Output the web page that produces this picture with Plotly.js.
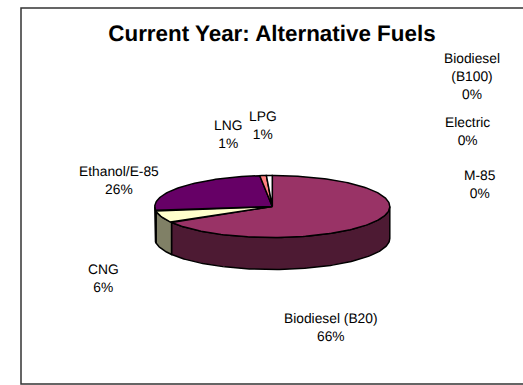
<!DOCTYPE html>
<html><head><meta charset="utf-8">
<script src="https://cdn.plot.ly/plotly-3.0.0.min.js"></script>
<style>html,body{margin:0;padding:0;background:#fff} svg text{text-rendering:geometricPrecision}</style></head>
<body><div id="chart" style="width:523px;height:385px"></div>
<script>
// Data, clockwise from 12 o'clock
const categories = ["Biodiesel (B20)", "CNG", "Ethanol/E-85", "LNG", "LPG", "Biodiesel (B100)", "Electric", "M-85"];
const shares = [66.4, 6.3, 25.6, 0.9, 0.8, 0, 0, 0];
const topColors = ["#993366", "#ffffcc", "#660066", "#ff8080", "#ffffff", "#ccffff", "#ccccff", "#800000"];
const sideColors = ["#4d1a33", "#808066", "#330033", "#804040", "#808080", "#668080", "#666680", "#400000"];
const labelText = ["Biodiesel (B20)", "CNG", "Ethanol/E-85", "LNG", "LPG", "Biodiesel<br>(B100)", "Electric", "M-85"];

// Layout (pixel frame)
const W = 523, H = 385;
const cx = 272.3, cy = 206.5, rx = 117.5, ry = 31, depth = 32;
const labelX = [331, 103, 119, 227.5, 263, 472, 467, 480];
const labelY = [327, 278, 180, 134, 125, 76, 131, 184];

const total = shares.reduce((a, b) => a + b, 0);
const px = a => cx + rx * Math.sin(a);
const py = a => cy - ry * Math.cos(a);
function arc(a0, a1, dy) {
  const n = Math.max(2, Math.ceil(Math.abs(a1 - a0) / 0.02));
  const xs = [], ys = [];
  for (let i = 0; i <= n; i++) {
    const a = a0 + (a1 - a0) * i / n;
    xs.push(px(a)); ys.push(py(a) + dy);
  }
  return [xs, ys];
}
const traces = [];
const line = {color: "#000", width: 1.5};
let start = 0;
const spans = shares.map(v => { const s = [start, start + v / total * 2 * Math.PI]; start = s[1]; return s; });
// Side walls first: only the front half of the rim is visible
spans.forEach(([a0, a1], i) => {
  const lo = Math.max(a0, Math.PI / 2), hi = Math.min(a1, 3 * Math.PI / 2);
  if (shares[i] <= 0 || hi <= lo) return;
  const [tx, ty] = arc(lo, hi, 0), [bx, by] = arc(hi, lo, depth);
  traces.push({type: "scatter", mode: "lines", x: tx.concat(bx, [tx[0]]), y: ty.concat(by, [ty[0]]),
    fill: "toself", fillcolor: sideColors[i], line, hoverinfo: "skip", showlegend: false});
});
// Top faces
spans.forEach(([a0, a1], i) => {
  if (shares[i] <= 0) return;
  const [tx, ty] = arc(a0, a1, 0);
  traces.push({type: "scatter", mode: "lines", x: [cx].concat(tx, [cx]), y: [cy].concat(ty, [cy]),
    fill: "toself", fillcolor: topColors[i], line, hoverinfo: "skip", showlegend: false});
});

const annotations = categories.map((c, i) => ({
  x: labelX[i], y: labelY[i], xref: "x", yref: "y", showarrow: false, align: "center",
  text: labelText[i] + "<br>" + Math.round(shares[i]) + "%",
  font: {family: "Liberation Sans, Arial, sans-serif", size: 13.8, color: "#000"}
}));

Plotly.newPlot("chart", traces, {
  width: W, height: H, autosize: false,
  margin: {l: 0, r: 0, t: 0, b: 0},
  paper_bgcolor: "#fff", plot_bgcolor: "#fff",
  showlegend: false,
  title: {text: "<b>Current Year: Alternative Fuels</b>", x: 0.52, xanchor: "center", y: 0.9143, yanchor: "middle",
    font: {family: "Liberation Sans, Arial, sans-serif", size: 22.4, color: "#000"}},
  xaxis: {range: [0, W], visible: false, fixedrange: true},
  yaxis: {range: [H, 0], visible: false, fixedrange: true},
  shapes: [{type: "rect", xref: "x", yref: "y", x0: 21, y0: 8, x1: W + 5, y1: 384, line: {color: "#333", width: 1.5}, layer: "below"}],
  annotations
}, {displayModeBar: false, staticPlot: true});
</script></body></html>
